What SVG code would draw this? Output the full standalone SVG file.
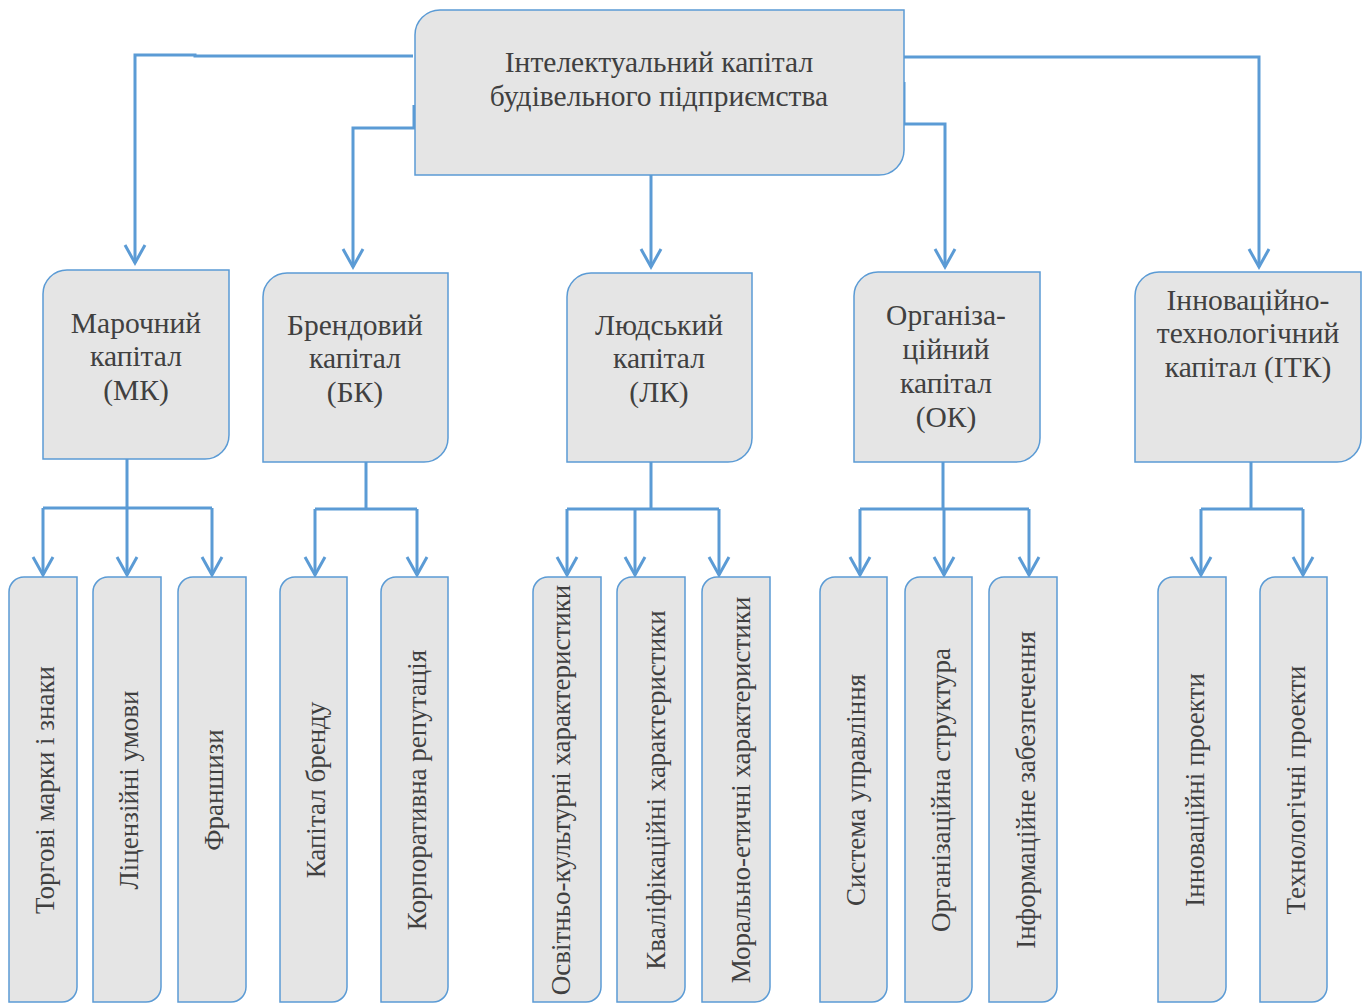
<svg xmlns="http://www.w3.org/2000/svg" width="1368" height="1003" viewBox="0 0 1368 1003">
<defs>
<style>
.box{fill:#e5e5e5;stroke:#5b9bd5;stroke-width:1.5}
.t{font-family:"Liberation Serif","Times New Roman",serif;fill:#404040;text-anchor:middle}
.t1{font-size:29.5px}
.t2{font-size:29.5px}
.t3{font-size:27px}
.c{fill:none;stroke:#5b9bd5;stroke-width:3}
.a{fill:none;stroke:#5b9bd5;stroke-width:3;marker-end:url(#arr)}
</style>
<marker id="arr" markerUnits="userSpaceOnUse" markerWidth="30" markerHeight="30" refX="0" refY="0" orient="auto" overflow="visible">
<path d="M-18,-10 L0,0 L-18,10" fill="none" stroke="#5b9bd5" stroke-width="3"/>
</marker>
</defs>
<rect width="1368" height="1003" fill="#ffffff"/>

<g id="connectors">
<path class="a" d="M413,56 H195 V55 H135 V263"/>
<path class="a" d="M414,105 V128 H353 V267"/>
<path class="a" d="M651,175 V267"/>
<path class="a" d="M904,57 H1259 V267"/>
<path class="a" d="M904,82 V124 H945 V267"/>

<path class="c" d="M127,459 V508 M43,508 H212"/>
<path class="a" d="M43,508 V575"/>
<path class="a" d="M127,508 V575"/>
<path class="a" d="M212,508 V575"/>

<path class="c" d="M366,462 V509 M315,509 H417"/>
<path class="a" d="M315,509 V575"/>
<path class="a" d="M417,509 V575"/>

<path class="c" d="M651,462 V509 M567,509 H719"/>
<path class="a" d="M567,509 V575"/>
<path class="a" d="M635,509 V575"/>
<path class="a" d="M719,509 V575"/>

<path class="c" d="M943,462 V509 M860,509 H1029"/>
<path class="a" d="M860,509 V575"/>
<path class="a" d="M944,509 V575"/>
<path class="a" d="M1029,509 V575"/>

<path class="c" d="M1251,462 V509 M1201,509 H1303"/>
<path class="a" d="M1201,509 V575"/>
<path class="a" d="M1303,509 V575"/>
</g>

<g id="root">
<path class="box" d="M440,10 H904 V150 A25,25 0 0 1 879,175 H415 V35 A25,25 0 0 1 440,10 Z"/>
<text class="t t1" x="659" y="72">Інтелектуальний капітал</text>
<text class="t t1" x="659" y="106">будівельного підприємства</text>
</g>

<g id="mk">
<path class="box" d="M67,270 H229 V435 A24,24 0 0 1 205,459 H43 V294 A24,24 0 0 1 67,270 Z"/>
<text class="t t2" x="136" y="333">Марочний</text>
<text class="t t2" x="136" y="366">капітал</text>
<text class="t t2" x="136" y="400">(МК)</text>
</g>
<g id="bk">
<path class="box" d="M287,273 H448 V438 A24,24 0 0 1 424,462 H263 V297 A24,24 0 0 1 287,273 Z"/>
<text class="t t2" x="355" y="335">Брендовий</text>
<text class="t t2" x="355" y="368">капітал</text>
<text class="t t2" x="355" y="402">(БК)</text>
</g>
<g id="lk">
<path class="box" d="M591,273 H752 V438 A24,24 0 0 1 728,462 H567 V297 A24,24 0 0 1 591,273 Z"/>
<text class="t t2" x="659" y="335">Людський</text>
<text class="t t2" x="659" y="368">капітал</text>
<text class="t t2" x="659" y="402">(ЛК)</text>
</g>
<g id="ok">
<path class="box" d="M878,272 H1040 V438 A24,24 0 0 1 1016,462 H854 V296 A24,24 0 0 1 878,272 Z"/>
<text class="t t2" x="946" y="325">Організа-</text>
<text class="t t2" x="946" y="359">ційний</text>
<text class="t t2" x="946" y="393">капітал</text>
<text class="t t2" x="946" y="427">(ОК)</text>
</g>
<g id="itk">
<path class="box" d="M1159,272 H1361 V438 A24,24 0 0 1 1337,462 H1135 V296 A24,24 0 0 1 1159,272 Z"/>
<text class="t t2" x="1248" y="310">Інноваційно-</text>
<text class="t t2" x="1248" y="343">технологічний</text>
<text class="t t2" x="1248" y="377">капітал (ІТК)</text>
</g>

<g id="leaf1">
<path class="box" d="M24,577 H77 V987 A15,15 0 0 1 62,1002 H9 V592 A15,15 0 0 1 24,577 Z"/>
<text class="t t3" transform="translate(54,790) rotate(-90)">Торгові марки і знаки</text>
</g>
<g id="leaf2">
<path class="box" d="M108,577 H161 V987 A15,15 0 0 1 146,1002 H93 V592 A15,15 0 0 1 108,577 Z"/>
<text class="t t3" transform="translate(138,790) rotate(-90)">Ліцензійні умови</text>
</g>
<g id="leaf3">
<path class="box" d="M193,577 H246 V987 A15,15 0 0 1 231,1002 H178 V592 A15,15 0 0 1 193,577 Z"/>
<text class="t t3" transform="translate(223,790) rotate(-90)">Франшизи</text>
</g>
<g id="leaf4">
<path class="box" d="M295,577 H347 V987 A15,15 0 0 1 332,1002 H280 V592 A15,15 0 0 1 295,577 Z"/>
<text class="t t3" transform="translate(325,790) rotate(-90)">Капітал бренду</text>
</g>
<g id="leaf5">
<path class="box" d="M396,577 H448 V987 A15,15 0 0 1 433,1002 H381 V592 A15,15 0 0 1 396,577 Z"/>
<text class="t t3" transform="translate(426,790) rotate(-90)">Корпоративна репутація</text>
</g>
<g id="leaf6">
<path class="box" d="M548,577 H601 V987 A15,15 0 0 1 586,1002 H533 V592 A15,15 0 0 1 548,577 Z"/>
<text class="t t3" transform="translate(570,790) rotate(-90)">Освітньо-культурні характеристики</text>
</g>
<g id="leaf7">
<path class="box" d="M632,577 H685 V987 A15,15 0 0 1 670,1002 H617 V592 A15,15 0 0 1 632,577 Z"/>
<text class="t t3" transform="translate(665,790) rotate(-90)">Кваліфікаційні характеристики</text>
</g>
<g id="leaf8">
<path class="box" d="M717,577 H770 V987 A15,15 0 0 1 755,1002 H702 V592 A15,15 0 0 1 717,577 Z"/>
<text class="t t3" transform="translate(750,790) rotate(-90)">Морально-етичні характеристики</text>
</g>
<g id="leaf9">
<path class="box" d="M835,577 H887 V987 A15,15 0 0 1 872,1002 H820 V592 A15,15 0 0 1 835,577 Z"/>
<text class="t t3" transform="translate(865,790) rotate(-90)">Система управління</text>
</g>
<g id="leaf10">
<path class="box" d="M920,577 H972 V987 A15,15 0 0 1 957,1002 H905 V592 A15,15 0 0 1 920,577 Z"/>
<text class="t t3" transform="translate(950,790) rotate(-90)">Організаційна структура</text>
</g>
<g id="leaf11">
<path class="box" d="M1004,577 H1057 V987 A15,15 0 0 1 1042,1002 H989 V592 A15,15 0 0 1 1004,577 Z"/>
<text class="t t3" transform="translate(1035,790) rotate(-90)">Інформаційне забезпечення</text>
</g>
<g id="leaf12">
<path class="box" d="M1173,577 H1226 V987 A15,15 0 0 1 1211,1002 H1158 V592 A15,15 0 0 1 1173,577 Z"/>
<text class="t t3" transform="translate(1204,790) rotate(-90)">Інноваційні проекти</text>
</g>
<g id="leaf13">
<path class="box" d="M1275,577 H1327 V987 A15,15 0 0 1 1312,1002 H1260 V592 A15,15 0 0 1 1275,577 Z"/>
<text class="t t3" transform="translate(1305,790) rotate(-90)">Технологічні проекти</text>
</g>
</svg>
